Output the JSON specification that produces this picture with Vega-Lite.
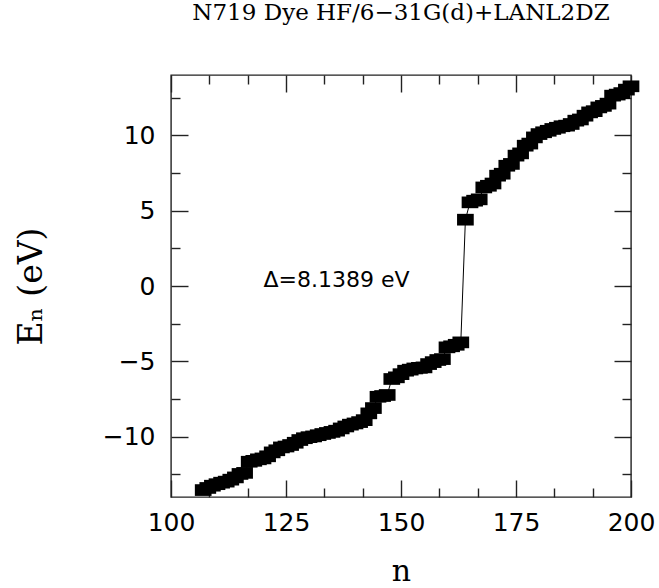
{
  "$schema": "https://vega.github.io/schema/vega-lite/v6.json",
  "autosize": "none",
  "width": 460,
  "height": 422,
  "padding": {"left": 171, "top": 75, "right": 28, "bottom": 91},
  "background": "white",
  "title": {
    "text": "N719 Dye HF/6−31G(d)+LANL2DZ",
    "font": "DejaVu Serif",
    "fontSize": 23,
    "fontWeight": "normal",
    "color": "black",
    "anchor": "middle",
    "frame": "group",
    "baseline": "alphabetic",
    "offset": 31
  },
  "config": {
    "view": {"stroke": "#222", "strokeWidth": 1.4},
    "axis": {
      "domain": false,
      "grid": false,
      "tickColor": "#222",
      "tickWidth": 1.4,
      "labelFont": "DejaVu Sans",
      "labelFontSize": 25,
      "labelColor": "black",
      "labelOverlap": false,
      "labelFlush": false,
      "labelBound": false,
      "titleColor": "black",
      "titleFontWeight": "normal"
    }
  },
  "datasets": {
    "pts": [
      {"n": 107, "E": -13.54}, {"n": 108, "E": -13.4}, {"n": 109, "E": -13.25}, {"n": 110, "E": -13.15},
      {"n": 111, "E": -13.05}, {"n": 112, "E": -12.98}, {"n": 113, "E": -12.85}, {"n": 114, "E": -12.7},
      {"n": 115, "E": -12.47}, {"n": 116, "E": -12.4}, {"n": 117, "E": -11.66}, {"n": 118, "E": -11.6},
      {"n": 119, "E": -11.5}, {"n": 120, "E": -11.44}, {"n": 121, "E": -11.3}, {"n": 122, "E": -11.04},
      {"n": 123, "E": -10.9}, {"n": 124, "E": -10.71}, {"n": 125, "E": -10.65}, {"n": 126, "E": -10.55},
      {"n": 127, "E": -10.4}, {"n": 128, "E": -10.22}, {"n": 129, "E": -10.1}, {"n": 130, "E": -10.03},
      {"n": 131, "E": -9.98}, {"n": 132, "E": -9.9}, {"n": 133, "E": -9.82}, {"n": 134, "E": -9.75},
      {"n": 135, "E": -9.68}, {"n": 136, "E": -9.6}, {"n": 137, "E": -9.45}, {"n": 138, "E": -9.32},
      {"n": 139, "E": -9.2}, {"n": 140, "E": -9.12}, {"n": 141, "E": -9.03}, {"n": 142, "E": -8.9},
      {"n": 143, "E": -8.45}, {"n": 144, "E": -8.1}, {"n": 145, "E": -7.35}, {"n": 146, "E": -7.3},
      {"n": 147, "E": -7.23}, {"n": 148, "E": -6.17}, {"n": 149, "E": -6.06}, {"n": 150, "E": -5.85},
      {"n": 151, "E": -5.62}, {"n": 152, "E": -5.55}, {"n": 153, "E": -5.47}, {"n": 154, "E": -5.43},
      {"n": 155, "E": -5.4}, {"n": 156, "E": -5.18}, {"n": 157, "E": -5.05}, {"n": 158, "E": -4.91},
      {"n": 159, "E": -4.85}, {"n": 160, "E": -4.07}, {"n": 161, "E": -4.0}, {"n": 162, "E": -3.9},
      {"n": 163, "E": -3.74}, {"n": 164, "E": 4.4}, {"n": 165, "E": 5.55}, {"n": 166, "E": 5.66},
      {"n": 167, "E": 5.75}, {"n": 168, "E": 6.54}, {"n": 169, "E": 6.65}, {"n": 170, "E": 6.8},
      {"n": 171, "E": 7.32}, {"n": 172, "E": 7.45}, {"n": 173, "E": 7.98}, {"n": 174, "E": 8.1},
      {"n": 175, "E": 8.65}, {"n": 176, "E": 8.8}, {"n": 177, "E": 9.31}, {"n": 178, "E": 9.45},
      {"n": 179, "E": 9.86}, {"n": 180, "E": 10.08}, {"n": 181, "E": 10.2}, {"n": 182, "E": 10.3},
      {"n": 183, "E": 10.42}, {"n": 184, "E": 10.5}, {"n": 185, "E": 10.6}, {"n": 186, "E": 10.64},
      {"n": 187, "E": 10.75}, {"n": 188, "E": 10.97}, {"n": 189, "E": 11.05}, {"n": 190, "E": 11.3},
      {"n": 191, "E": 11.52}, {"n": 192, "E": 11.6}, {"n": 193, "E": 11.85}, {"n": 194, "E": 11.95},
      {"n": 195, "E": 12.1}, {"n": 196, "E": 12.63}, {"n": 197, "E": 12.7}, {"n": 198, "E": 12.8},
      {"n": 199, "E": 13.03}, {"n": 200, "E": 13.25}
    ],
    "note": [{"n": 120.1, "E": -0.05, "label": "Δ=8.1389  eV"}]
  },
  "layer": [
    {
      "data": {"name": "pts"},
      "mark": {"type": "line", "color": "black", "strokeWidth": 1, "clip": false},
      "encoding": {
        "x": {
          "field": "n", "type": "quantitative",
          "scale": {"domain": [100, 200], "nice": false, "zero": false},
          "axis": {
            "orient": "bottom",
            "values": [100, 108.3333, 116.6667, 125, 133.3333, 141.6667, 150, 158.3333, 166.6667, 175, 183.3333, 191.6667, 200],
            "tickSize": {"condition": {"test": "datum.value % 25 === 0", "value": -17}, "value": -9},
            "labelExpr": "datum.value % 25 === 0 ? datum.label : ''",
            "labelPadding": 30,
            "title": "n",
            "titleFont": "DejaVu Serif",
            "titleFontSize": 30,
            "titlePadding": 13
          }
        },
        "y": {
          "field": "E", "type": "quantitative",
          "scale": {"domain": [-14, 14], "nice": false, "zero": false},
          "axis": {
            "orient": "left",
            "values": [-12.5, -10, -7.5, -5, -2.5, 0, 2.5, 5, 7.5, 10, 12.5],
            "tickSize": {"condition": {"test": "datum.value % 5 === 0", "value": -17}, "value": -9},
            "labelExpr": "datum.value % 5 === 0 ? datum.label : ''",
            "labelPadding": 33,
            "title": "Eₙ  (eV)",
            "titleFont": "DejaVu Serif",
            "titleFontSize": 33,
            "titlePadding": 54
          }
        }
      }
    },
    {
      "data": {"name": "pts"},
      "mark": {"type": "point", "shape": "M-1,-0.7H1V0.7H-1Z", "filled": true, "color": "black", "opacity": 1, "size": 279, "clip": false},
      "encoding": {
        "x": {
          "field": "n", "type": "quantitative",
          "axis": {
            "orient": "top",
            "values": [100, 108.3333, 116.6667, 125, 133.3333, 141.6667, 150, 158.3333, 166.6667, 175, 183.3333, 191.6667, 200],
            "tickSize": {"condition": {"test": "datum.value % 25 === 0", "value": -17}, "value": -9},
            "labels": false,
            "title": null
          }
        },
        "y": {
          "field": "E", "type": "quantitative",
          "axis": {
            "orient": "right",
            "values": [-12.5, -10, -7.5, -5, -2.5, 0, 2.5, 5, 7.5, 10, 12.5],
            "tickSize": {"condition": {"test": "datum.value % 5 === 0", "value": -17}, "value": -9},
            "labels": false,
            "title": null
          }
        }
      }
    },
    {
      "data": {"name": "note"},
      "mark": {"type": "text", "font": "DejaVu Sans", "fontSize": 22, "align": "left", "baseline": "alphabetic", "color": "black"},
      "encoding": {
        "x": {"field": "n", "type": "quantitative", "axis": null},
        "y": {"field": "E", "type": "quantitative", "axis": null},
        "text": {"field": "label"}
      }
    }
  ],
  "resolve": {"axis": {"x": "independent", "y": "independent"}}
}
